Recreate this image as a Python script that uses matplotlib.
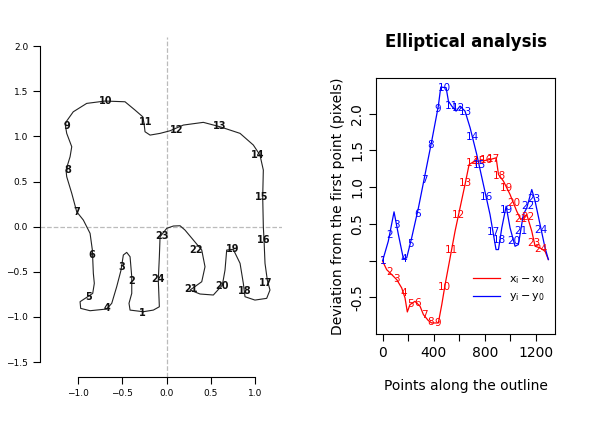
import numpy as np
import matplotlib
matplotlib.use("Agg")
import matplotlib.pyplot as plt

# outline of the elephant (normalised coordinates)
out_x = [-0.262,-0.412,-0.424,-0.393,-0.393,-0.412,-0.450,-0.488,-0.514,-0.563,-0.619,-0.676,-0.864,-0.970,-0.977,-0.902,-0.834,-0.816,-0.827,-0.838,-0.864,-0.940,-1.015,-1.071,-1.128,-1.136,-1.090,-1.071,-1.128,-1.147,-1.054,-0.902,-0.695,-0.469,-0.356,-0.269,-0.254,-0.243,-0.186,-0.073,0.040,0.190,0.416,0.605,0.831,0.981,1.056,1.094,1.087,1.094,1.102,1.113,1.139,1.169,1.132,0.999,0.887,0.868,0.831,0.754,0.680,0.661,0.631,0.529,0.379,0.266,0.398,0.435,0.398,0.303,0.209,0.153,0.077,0.002,-0.073,-0.081,-0.093,-0.081,-0.149,-0.262]
out_y = [-0.942,-0.924,-0.849,-0.739,-0.555,-0.333,-0.285,-0.314,-0.481,-0.665,-0.849,-0.912,-0.931,-0.905,-0.831,-0.783,-0.739,-0.628,-0.517,-0.259,-0.074,0.073,0.165,0.369,0.553,0.627,0.774,0.885,1.033,1.144,1.272,1.365,1.391,1.383,1.291,1.217,1.144,1.051,1.014,1.033,1.062,1.125,1.155,1.106,1.033,0.904,0.793,0.627,0.331,0.0,-0.148,-0.406,-0.591,-0.702,-0.794,-0.813,-0.776,-0.628,-0.406,-0.251,-0.259,-0.481,-0.647,-0.757,-0.746,-0.702,-0.610,-0.444,-0.259,-0.148,-0.038,0.010,0.007,-0.019,-0.112,-0.333,-0.591,-0.887,-0.924,-0.942]

# landmarks
lm_x = [-0.27,-0.40,-0.51,-0.67,-0.88,-0.84,-1.02,-1.12,-1.13,-0.69,-0.23,0.11,0.60,1.03,1.08,1.10,1.12,0.88,0.75,0.63,0.28,0.33,-0.05,-0.10]
lm_y = [-0.96,-0.60,-0.45,-0.90,-0.78,-0.31,0.16,0.63,1.12,1.39,1.16,1.07,1.11,0.79,0.33,-0.15,-0.62,-0.71,-0.25,-0.66,-0.69,-0.26,-0.10,-0.58]

# deviation series
dx_idx = [0,31,71,110,149,175,193,214,253,293,319,358,384,436,463,489,528,567,606,645,677,711,750,803,842,889,907,946,998,1050,1082,1129,1168,1194,1233,1272,1298]
dx_val = [-0.009,-0.123,-0.191,-0.259,-0.373,-0.509,-0.700,-0.600,-0.555,-0.623,-0.736,-0.818,-0.850,-0.850,-0.600,-0.327,0.036,0.400,0.718,1.036,1.309,1.345,1.355,1.364,1.377,1.400,1.173,1.082,0.900,0.673,0.559,0.627,0.400,0.195,0.173,0.127,0.014]
dy_idx = [0,44,89,123,162,188,227,280,332,384,436,455,497,515,541,575,606,645,685,737,789,841,888,907,933,967,998,1037,1063,1102,1129,1168,1194,1233,1272,1298]
dy_val = [0,0.264,0.664,0.355,0.027,0.036,0.309,0.718,1.173,1.627,2.105,2.364,2.355,2.173,2.105,2.036,2.105,2.036,1.809,1.445,1.036,0.627,0.150,0.150,0.445,0.741,0.445,0.195,0.218,0.627,0.718,0.968,0.809,0.491,0.173,0.014]
lm_idx = [k * 54 for k in range(24)]

fig = plt.figure(figsize=(5.95, 4.32), dpi=100)

# ---- left panel
ax = fig.add_axes([0.0672, 0.1273, 0.406, 0.787])
ax.axhline(0, color="#bbbbbb", ls="--", lw=0.9)
ax.axvline(0, color="#bbbbbb", ls="--", lw=0.9)
ax.plot(out_x, out_y, color="#222222", lw=0.8)
for i, (x, y) in enumerate(zip(lm_x, lm_y)):
    ax.text(x, y, str(i + 1), ha="center", va="center", fontsize=7, fontweight="bold", color="#111111")
ax.set_xlim(-1.43, 1.3)
ax.set_ylim(-1.665, 2.1)
ax.set_xticks([-1.0, -0.5, 0.0, 0.5, 1.0])
ax.set_yticks([-1.5, -1.0, -0.5, 0.0, 0.5, 1.0, 1.5, 2.0])
ax.spines["top"].set_visible(False)
ax.spines["right"].set_visible(False)
ax.spines["bottom"].set_bounds(-1.0, 1.0)
ax.spines["left"].set_bounds(-1.5, 2.0)
ax.tick_params(labelsize=6.5, direction="out", length=5)

# ---- right panel
ax2 = fig.add_axes([0.632, 0.2269, 0.301, 0.593])
ax2.plot(dx_idx, dx_val, color="red", lw=0.9, label=r"$\mathregular{x_i - x_0}$")
ax2.plot(dy_idx, dy_val, color="blue", lw=0.9, label=r"$\mathregular{y_i - y_0}$")
rx = np.interp(lm_idx, dx_idx, dx_val)
by = np.interp(lm_idx, dy_idx, dy_val)
for i in range(24):
    ax2.text(lm_idx[i], rx[i], str(i + 1), color="red", ha="center", va="center", fontsize=7.5)
    ax2.text(lm_idx[i], by[i], str(i + 1), color="blue", ha="center", va="center", fontsize=7.5)
ax2.set_xlim(-52, 1351)
ax2.set_ylim(-1.0, 2.49)
ax2.set_xticks([0, 400, 800, 1200])
ax2.set_xticks([0, 200, 400, 600, 800, 1000, 1200], minor=False)
ax2.set_xticklabels(["0", "", "400", "", "800", "", "1200"])
ax2.set_yticks([-0.5, 0.0, 0.5, 1.0, 1.5, 2.0])
ax2.set_yticklabels(["-0.5", "", "0.5", "1.0", "1.5", "2.0"], rotation=90, va="center")
ax2.tick_params(labelsize=10, direction="out", length=5)
ax2.set_title("Elliptical analysis", fontsize=12, fontweight="bold", pad=22)
ax2.set_xlabel("Points along the outline", fontsize=10, labelpad=14)
ax2.set_ylabel("Deviation from the first point (pixels)", fontsize=10)
ax2.legend(loc="lower right", frameon=False, fontsize=8, handlelength=2.5, bbox_to_anchor=(1.0, 0.08))

fig.savefig("out.png", dpi=100)
